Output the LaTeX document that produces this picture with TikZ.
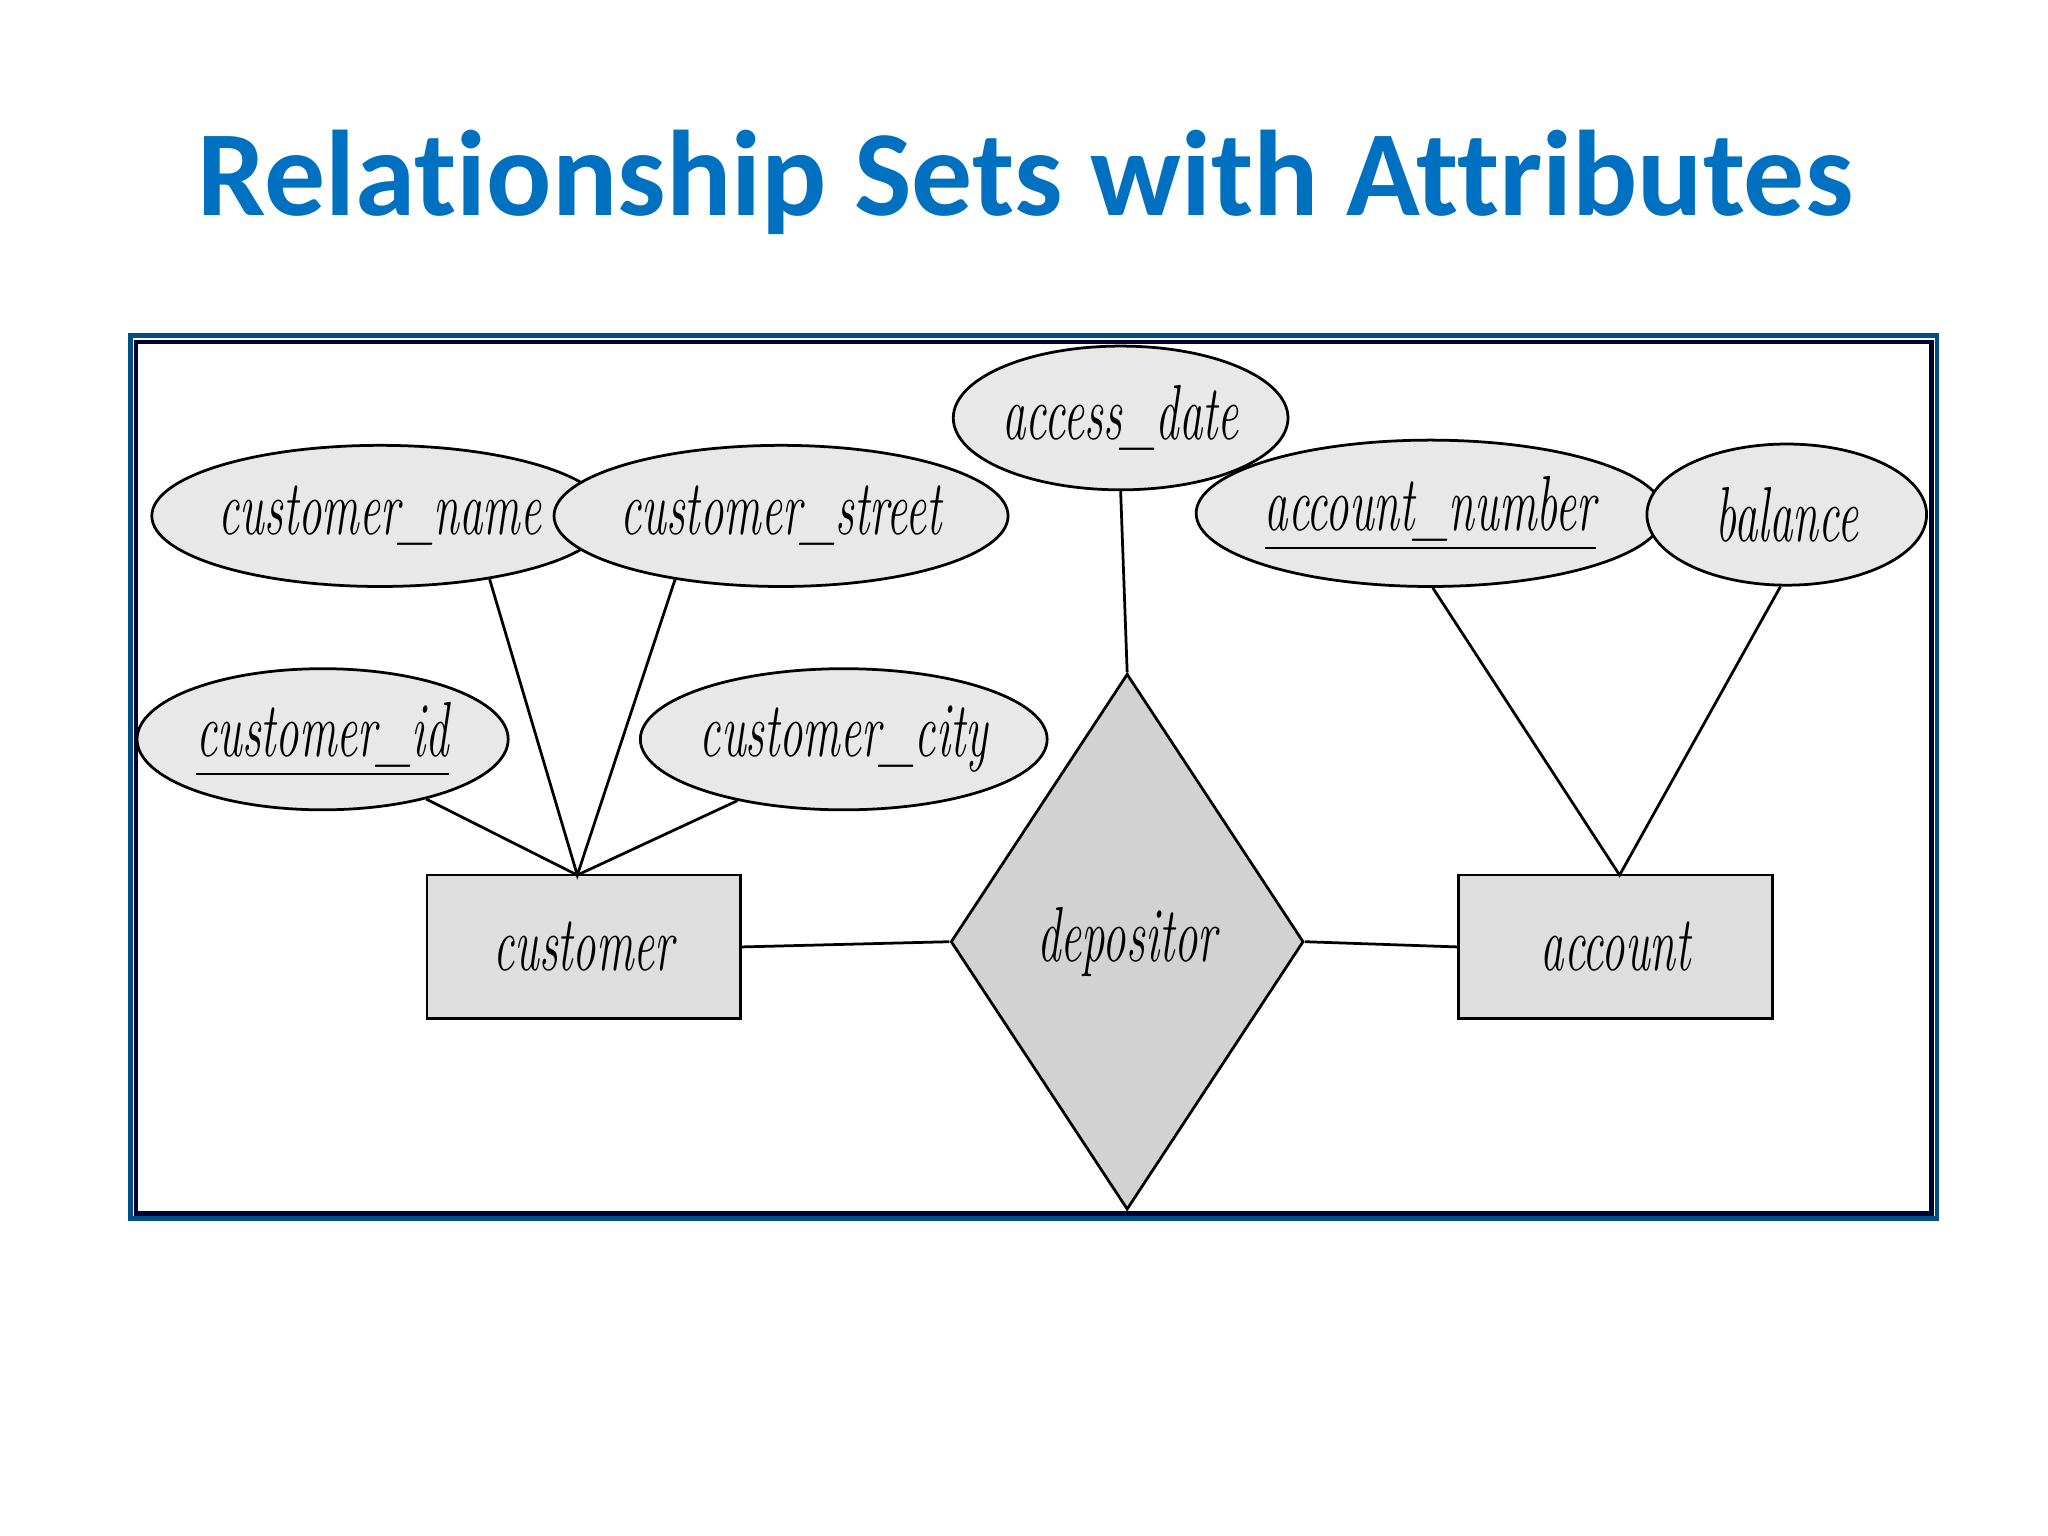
\documentclass[tikz,border=0pt]{standalone}
\usepackage{fontspec}
\usetikzlibrary{shapes.geometric}
\newfontfamily\titlefont[Ligatures={NoCommon}]{Carlito}
\definecolor{titleblue}{RGB}{0,112,192}
\definecolor{efill}{RGB}{232,232,232}
\definecolor{rfill}{RGB}{222,222,222}
\definecolor{dfill}{RGB}{210,210,210}
\newcommand\lbl[1]{\scalebox{0.6}[1]{\fontsize{17}{19}\selectfont\itshape #1}}
\begin{document}
\begin{tikzpicture}[x=0.01cm,y=-0.01cm,
  attr/.style={ellipse,draw,fill=efill,inner sep=0pt,line width=0.6pt},
  ent/.style={rectangle,draw,fill=rfill,minimum width=2.4cm,minimum height=1.1cm,inner sep=0pt,line width=0.6pt},
  link/.style={line width=0.6pt}]
\useasboundingbox (0,0) rectangle (1568,1176);
\fill[white] (0,0) rectangle (1568,1176);
\node[font=\titlefont\bfseries\fontsize{26.5}{30}\selectfont,text=titleblue] (title) at (785,140) {Relationship Sets with Attributes};
\draw[titleblue!70!black,line width=1pt] (100,257) rectangle (1483,933);
\draw[black!80!blue,line width=1pt] (104,262) rectangle (1479,929);
\node[attr,minimum width=2.86cm,minimum height=1.08cm] (cn) at (291,395) {\lbl{customer\_name}};
\node[attr,minimum width=2.86cm,minimum height=1.08cm] (cs) at (598,395) {\lbl{customer\_street}};
\node[attr,minimum width=2.84cm,minimum height=1.08cm] (ci) at (247,566) {\lbl{\underline{customer\_id}}};
\node[attr,minimum width=2.88cm,minimum height=1.08cm] (cc) at (646,566) {\lbl{customer\_city}};
\node[attr,minimum width=2.16cm,minimum height=1.1cm] (ad) at (858,320) {\lbl{access\_date}};
\node[attr,minimum width=2.94cm,minimum height=1.12cm] (an) at (1095,393) {\lbl{\underline{account\_number}}};
\node[attr,minimum width=2.14cm,minimum height=1.08cm] (ba) at (1368,394) {\lbl{balance}};
\node[ent] (cu) at (447,725) {\lbl{customer}};
\node[ent] (ac) at (1237,725) {\lbl{account}};
\node[diamond,draw,fill=dfill,aspect=0.66,minimum width=2.7cm,minimum height=4.1cm,inner sep=0pt,line width=0.6pt] (de) at (863,721) {\lbl{depositor}};
\coordinate (cutop) at (442,670);
\coordinate (actop) at (1240,670);
\draw[link] (cn.-30) -- (cutop) -- (cs.-149);
\draw[link] (ci.-30) -- (cutop) -- (cc.-150);
\draw[link] (an.-88) -- (actop) -- (ba.-95);
\draw[link] (ad.south) -- (de.north);
\draw[link] (cu.east) -- (de.west);
\draw[link] (de.east) -- (ac.west);
\end{tikzpicture}
\end{document}
